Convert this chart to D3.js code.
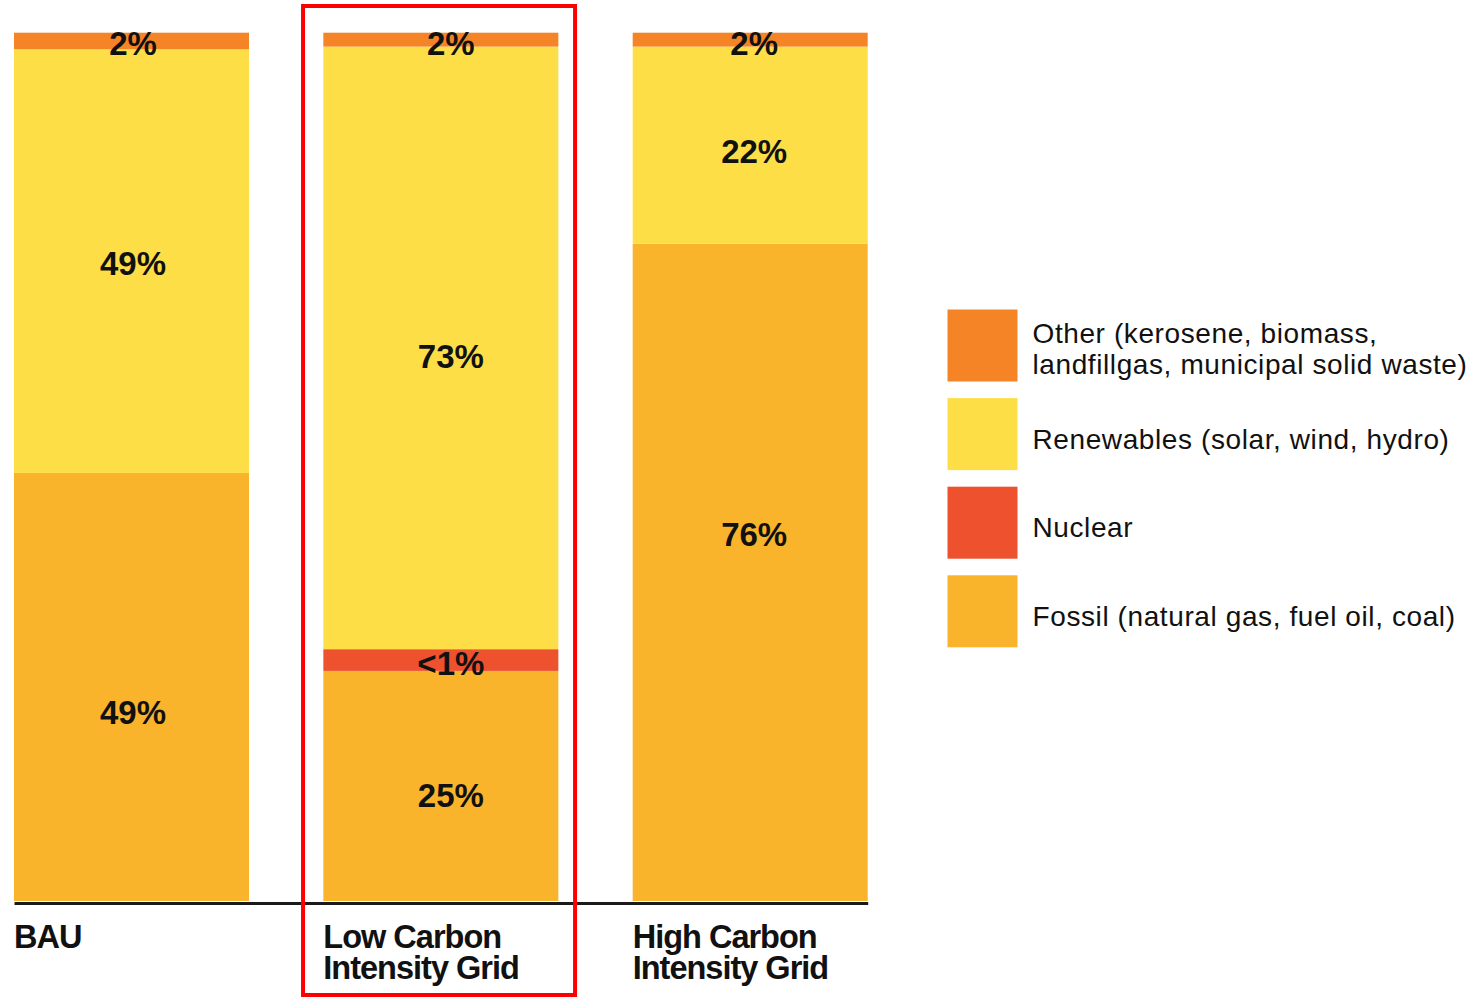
<!DOCTYPE html>
<html>
<head>
<meta charset="utf-8">
<script src="https://cdn.jsdelivr.net/npm/d3@7"></script>
<style>
  html, body { margin: 0; padding: 0; background: #fff; }
  svg { display: block; }
  text { font-family: "Liberation Sans", Arial, Helvetica, sans-serif; }
</style>
</head>
<body>
<svg id="chart" width="1476" height="998"></svg>
<script>
// ---------- data ----------
const categories = ["BAU", "Low Carbon Intensity Grid", "High Carbon Intensity Grid"];
const categoryLines = [["BAU"], ["Low Carbon", "Intensity Grid"], ["High Carbon", "Intensity Grid"]];
const seriesKeys = ["fossil", "nuclear", "renewables", "other"]; // bottom to top
const fossil     = [49.3, 26.5, 75.7];
const nuclear    = [0,    2.5,  0];
const renewables = [48.8, 69.4, 22.7];
const other      = [1.9,  1.6,  1.6];
const labelText = {
  fossil:     ["49%", "25%", "76%"],
  nuclear:    [null,  "<1%", null],
  renewables: ["49%", "73%", "22%"],
  other:      ["2%",  "2%",  "2%"]
};
// value on the y axis at which each label sits
const labelAt = {
  fossil:     [21.7, 12.2, 42.2],
  nuclear:    [null, 27.4, null],
  renewables: [73.5, 62.8, 86.4],
  other:      [98.8, 98.8, 98.8]
};
const legendKeys = ["other", "renewables", "nuclear", "fossil"];
const legendLabels = [
  ["Other (kerosene, biomass,", "landfillgas, municipal solid waste)"],
  ["Renewables (solar, wind, hydro)"],
  ["Nuclear"],
  ["Fossil (natural gas, fuel oil, coal)"]
];
const colors = {
  other: "#F58426",
  renewables: "#FDDE46",
  nuclear: "#EE512D",
  fossil: "#F9B42B"
};
const highlighted = "Low Carbon Intensity Grid";

// ---------- build ----------
const svg = d3.select("#chart");
const seriesVals = { fossil, nuclear, renewables, other };
const table = categories.map((c, i) => {
  const row = { category: c };
  seriesKeys.forEach(k => row[k] = seriesVals[k][i]);
  return row;
});
const stacked = d3.stack().keys(seriesKeys)(table);

const x = d3.scaleBand().domain(categories).range([14, 867.7]).paddingInner(0.2403).paddingOuter(0);
const y = d3.scaleLinear().domain([0, 100]).range([901, 32.7]);
const labelShift = [1.5, 10, 4]; // horizontal nudge of value labels per bar

// bars
const g = svg.append("g");
g.selectAll("g.series").data(stacked).join("g")
  .attr("class", "series")
  .attr("fill", d => colors[d.key])
  .selectAll("rect").data(d => d).join("rect")
  .attr("x", d => x(d.data.category))
  .attr("width", x.bandwidth())
  .attr("y", d => y(d[1]))
  .attr("height", d => Math.max(0, y(d[0]) - y(d[1])));

// value labels
seriesKeys.forEach(k => {
  categories.forEach((c, i) => {
    const t = labelText[k][i];
    if (!t) return;
    g.append("text")
      .attr("x", x(c) + x.bandwidth() / 2 + labelShift[i])
      .attr("y", y(labelAt[k][i]))
      .attr("dy", "0.36em")
      .attr("text-anchor", "middle")
      .attr("font-size", 33)
      .attr("font-weight", "bold")
      .attr("fill", "#111")
      .text(t);
  });
});

// baseline axis
const axis = d3.axisBottom(x).tickSize(0).tickSizeOuter(0).tickFormat("");
const ax = svg.append("g").attr("transform", `translate(0,${y(0) + 2})`).call(axis);
ax.select(".domain").attr("stroke", "#1a1a1a").attr("stroke-width", 3);

// category labels
categories.forEach((c, i) => {
  const t = svg.append("text")
    .attr("x", x(c))
    .attr("y", 947.5)
    .attr("font-size", 32.5)
    .attr("font-weight", "bold")
    .attr("letter-spacing", -1)
    .attr("fill", "#111");
  categoryLines[i].forEach((line, j) => {
    t.append("tspan").attr("x", x(c)).attr("dy", j === 0 ? 0 : 31).text(line);
  });
});

// highlight rectangle around the low-carbon bar
svg.append("rect")
  .attr("x", x(highlighted) - 20.3)
  .attr("y", 6)
  .attr("width", x.bandwidth() + 37)
  .attr("height", 989)
  .attr("fill", "none")
  .attr("stroke", "#FF0000")
  .attr("stroke-width", 4);

// legend
const lg = svg.append("g").attr("transform", "translate(947.5,309.5)");
const step = 88.6;
legendKeys.forEach((k, i) => {
  const row = lg.append("g").attr("transform", `translate(0,${i * step})`);
  row.append("rect").attr("width", 70).attr("height", 72).attr("fill", colors[k]);
  const lines = legendLabels[i];
  const lh = 31;
  const first = 36 + 14.5 - (lines.length - 1) * (lh + 4) / 2;
  const t = row.append("text")
    .attr("x", 85)
    .attr("y", first)
    .attr("font-size", 28)
    .attr("letter-spacing", 0.6)
    .attr("fill", "#111");
  lines.forEach((line, j) => {
    t.append("tspan").attr("x", 85).attr("dy", j === 0 ? 0 : lh).text(line);
  });
});
</script>
</body>
</html>
